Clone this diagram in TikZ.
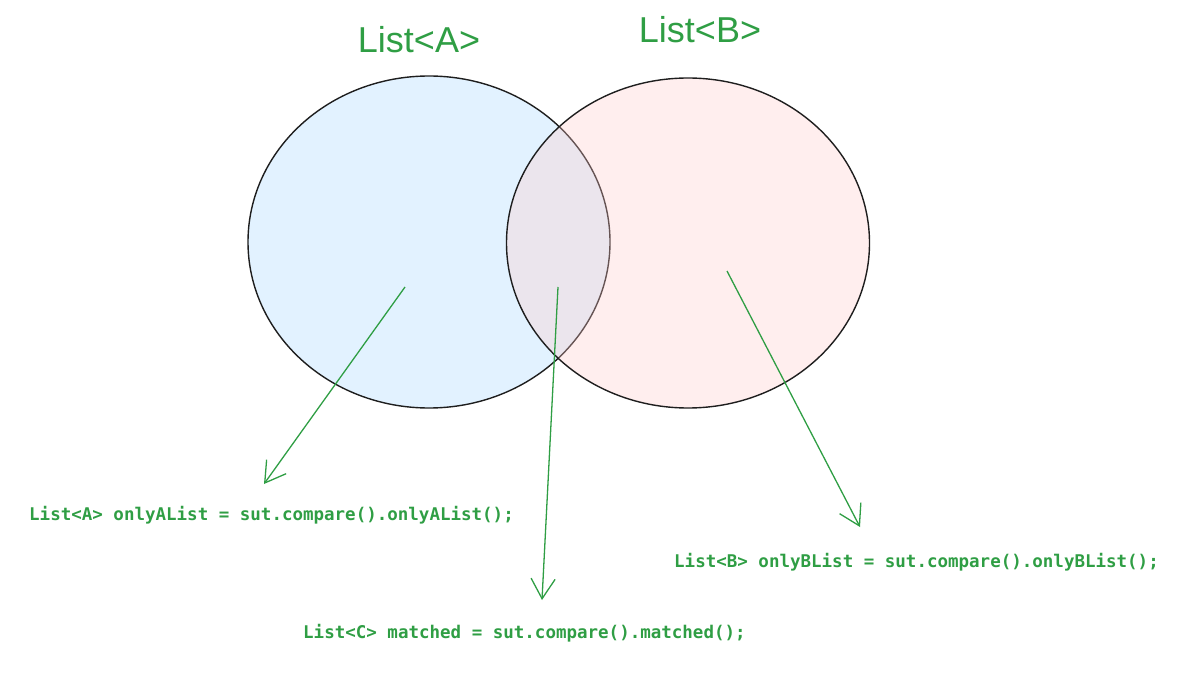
\documentclass[tikz,border=0pt]{standalone}
\usepackage{fontspec}
\setmainfont{Liberation Sans}
\newfontfamily\codefont{DejaVu Sans Mono Bold}
\usetikzlibrary{arrows.meta,shapes.geometric}
\definecolor{grn}{HTML}{2F9E44}
\definecolor{blueset}{HTML}{A5D8FF}
\definecolor{pinkset}{HTML}{FFC9C9}
\definecolor{ink}{HTML}{1E1E1E}
\tikzset{
  setshape/.style={ellipse, draw=ink, line width=1.4pt, inner sep=0pt, fill opacity=0.32},
  title/.style={text=grn, font=\fontsize{36}{40}\selectfont},
  code/.style={text=grn, anchor=west, inner sep=0pt, font=\codefont\fontsize{17.5}{20}\selectfont},
  pointer/.style={draw=grn, line width=1.3pt, -{Straight Barb[length=20pt,width=24pt,line width=1.3pt]}}
}
\begin{document}
\begin{tikzpicture}[x=1pt,y=-1pt]
\useasboundingbox (0,0) rectangle (1192,679);
\node[setshape, fill=blueset, minimum width=362pt, minimum height=332pt] (setA) at (429,242) {};
\node[setshape, fill=pinkset, minimum width=363pt, minimum height=330pt] (setB) at (688,243) {};
\node[title] (titleA) at (419,40) {List<A>};
\node[title] (titleB) at (700,30) {List<B>};
\coordinate (pA) at (405,287);
\coordinate (pC) at (558,287);
\coordinate (pB) at (727,271);
\node[code] (codeA) at (29,515) {List<A> onlyAList = sut.compare().onlyAList();};
\node[code] (codeB) at (674,562) {List<B> onlyBList = sut.compare().onlyBList();};
\node[code] (codeC) at (303,633) {List<C> matched = sut.compare().matched();};
\coordinate (eA) at (264,484);
\coordinate (eC) at (542,600);
\coordinate (eB) at (860,527);
\draw[pointer] (pA) -- (eA);
\draw[pointer] (pC) -- (eC);
\draw[pointer] (pB) -- (eB);
\end{tikzpicture}
\end{document}
